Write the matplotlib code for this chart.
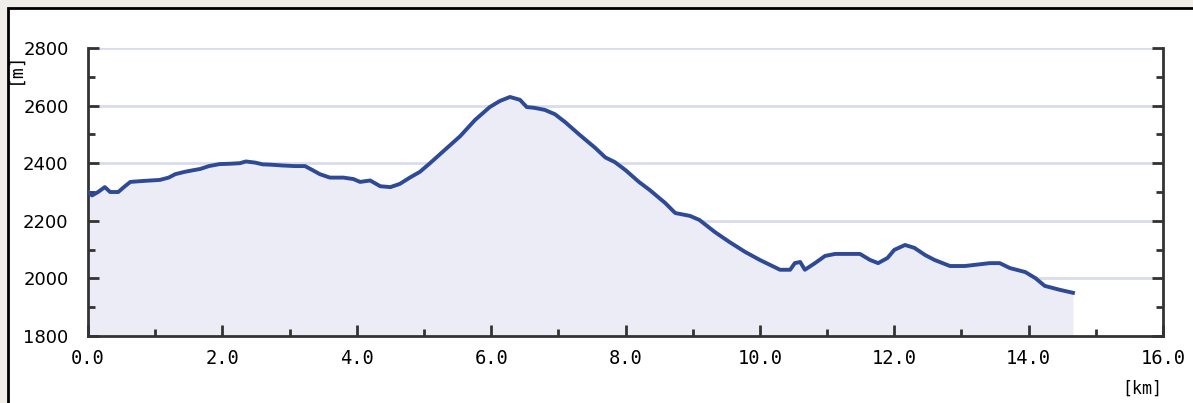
import matplotlib.pyplot as plt
from matplotlib.patches import Rectangle
from matplotlib.ticker import MultipleLocator

# elevation profile
dist_km = [0.00, 0.06, 0.15, 0.25, 0.33, 0.45, 0.55, 0.63, 0.80, 1.07, 1.20, 1.30,
           1.44, 1.55, 1.67, 1.80, 1.96, 2.10, 2.26, 2.35, 2.49, 2.60, 2.71, 2.90,
           3.08, 3.23, 3.35, 3.45, 3.60, 3.80, 3.95, 4.05, 4.20, 4.35, 4.50, 4.64,
           4.79, 4.94, 5.09, 5.31, 5.54, 5.76, 5.98, 6.13, 6.28, 6.43, 6.53, 6.65,
           6.80, 6.95, 7.10, 7.32, 7.55, 7.70, 7.84, 8.00, 8.20, 8.36, 8.59, 8.74,
           8.96, 9.10, 9.33, 9.55, 9.78, 10.00, 10.15, 10.30, 10.45, 10.52, 10.60,
           10.67, 10.82, 10.97, 11.12, 11.30, 11.49, 11.64, 11.76, 11.90, 12.00,
           12.16, 12.30, 12.46, 12.60, 12.83, 13.05, 13.20, 13.42, 13.57, 13.72,
           13.95, 14.10, 14.24, 14.47, 14.66]
elev_m = [2300, 2288, 2300, 2317, 2300, 2300, 2320, 2335, 2338, 2342, 2350, 2362,
          2370, 2375, 2380, 2390, 2397, 2398, 2400, 2406, 2402, 2396, 2395, 2392,
          2390, 2390, 2375, 2362, 2350, 2350, 2345, 2335, 2340, 2320, 2317, 2328,
          2350, 2370, 2400, 2446, 2494, 2550, 2595, 2616, 2630, 2620, 2595, 2592,
          2585, 2570, 2543, 2498, 2453, 2420, 2404, 2376, 2335, 2307, 2262, 2227,
          2217, 2203, 2161, 2126, 2092, 2064, 2047, 2030, 2030, 2053, 2057,
          2030, 2053, 2078, 2085, 2085, 2085, 2064, 2053, 2071, 2099,
          2116, 2106, 2081, 2064, 2043, 2043, 2047, 2053, 2053, 2036,
          2022, 2001, 1974, 1960, 1950]

x_ticks = [0, 2, 4, 6, 8, 10, 12, 14, 16]
y_ticks = [1800, 2000, 2200, 2400, 2600, 2800]

fig = plt.figure(figsize=(11.93, 4.03), dpi=100)
fig.patch.set_facecolor('#efeee9')
# white page with black border
fig.patches.append(Rectangle((8 / 1193, -0.1), 1.2, 1 - 7.5 / 403 + 0.1,
                             transform=fig.transFigure, facecolor='white',
                             edgecolor='black', lw=2, zorder=-10))

ax = fig.add_axes([88 / 1193, 67 / 403, 1075 / 1193, 288 / 403])
ax.set_zorder(1)
ax.set_facecolor('white')
# grid lines sit under the filled area
for yv in y_ticks[1:]:
    ax.axhline(yv, color='#d9dcee', lw=2, zorder=0.5)
ax.fill_between(dist_km, elev_m, 1800, color='#ebecf6', lw=0, zorder=1)
ax.plot(dist_km, elev_m, color='#2e4a96', lw=2.8, zorder=3)

ax.set_xlim(0, 16)
ax.set_ylim(1800, 2800)
ax.set_xticks(x_ticks)
ax.set_xticklabels(['%.1f' % v for v in x_ticks], family='DejaVu Sans Mono', fontsize=13.5)
ax.set_yticks(y_ticks)
ax.set_yticklabels([str(v) for v in y_ticks], fontsize=13)
ax.xaxis.set_minor_locator(MultipleLocator(1))
ax.yaxis.set_minor_locator(MultipleLocator(100))
ax.set_axisbelow(False)

ax.spines['top'].set_visible(False)
for s in ['left', 'bottom', 'right']:
    ax.spines[s].set_linewidth(2)
    ax.spines[s].set_color('#333333')
ax.tick_params(which='both', direction='in', width=2, color='#333333',
               left=True, right=True, bottom=True, top=False)
ax.tick_params(which='major', length=8)
ax.tick_params(which='minor', length=5)
ax.tick_params(axis='x', pad=9)
ax.tick_params(axis='y', pad=14)

fig.text(1162 / 1193, 1 - 389 / 403, '[km]', family='DejaVu Sans Mono', fontsize=12,
         ha='right', va='center')
fig.text(15 / 1193, 1 - 68 / 403, '[m]', family='DejaVu Sans Mono', fontsize=13,
         rotation=90, ha='center', va='center')

fig.savefig('out.png', dpi=100, facecolor=fig.get_facecolor())
